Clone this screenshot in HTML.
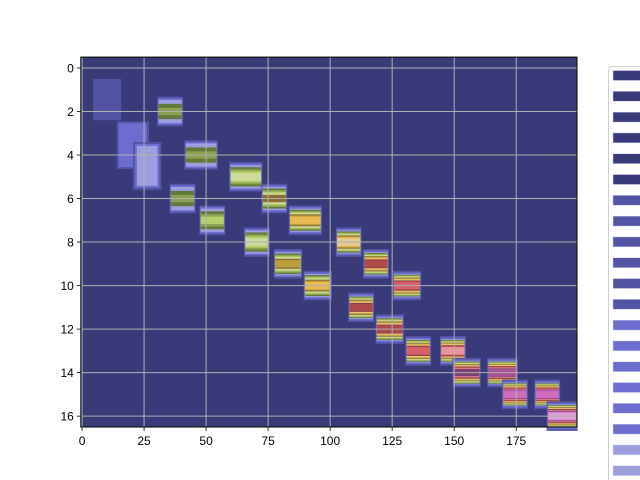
<!DOCTYPE html>
<html><head><meta charset="utf-8"><style>
body{margin:0;background:#fff;}
svg{display:block;font-family:"Liberation Sans","DejaVu Sans",sans-serif;}
</style></head><body>
<svg id="chart" width="640" height="480" viewBox="0 0 640 480" xmlns="http://www.w3.org/2000/svg">
<g id="plot"></g>
<g id="axes"></g>
<g id="legend"></g>
</svg>
<script>
const noteRows   = [2, 4, 5, 6, 6, 7, 8, 7, 9, 10, 8, 9, 11, 10, 12, 13, 13, 14, 14, 15, 15, 16];
const noteStarts = [30, 41, 59, 35, 72, 47, 65, 83, 77, 89, 102, 113, 107, 125, 118, 130, 144, 149, 163, 169, 182, 187];
const noteEnds   = [41, 55, 73, 46, 83, 58, 76, 97, 89, 101, 113, 124, 118, 137, 130, 141, 155, 161, 176, 180, 193, 200];
const notePeaks  = [5, 5, 7, 5, 8, 6, 7, 10, 9, 10, 11, 13, 13, 14, 13, 14, 15, 16, 17, 18, 18, 19];
const blobRows   = [1.45, 3.55, 4.5];
const blobStarts = [4.5, 14, 20.5];
const blobEnds   = [15.8, 27, 32];
const blobLevels = [1, 2, 3];
const xTicks = [0, 25, 50, 75, 100, 125, 150, 175];
const yTicks = [0, 2, 4, 6, 8, 10, 12, 14, 16];
const legendLevels = [0,0,0,0,0,0,1,1,1,1,1,1,2,2,2,2,2,2,3,3];

const cmap = ["#393b79","#5254a3","#6b6ecf","#9c9ede","#637939","#8ca252","#b5cf6b","#cedb9c","#8c6d31","#bd9e39","#e7ba52","#e7cb94","#843c39","#ad494a","#d6616b","#e7969c","#7b4173","#a55194","#ce6dbd","#de9ed6"];
const L = 80.8, R = 577, T = 57.1, B = 427;
const x = v => L + (v + 0.5) * (R - L) / 200;
const y = v => T + (v + 0.5) * (B - T) / 17;
const NS = "http://www.w3.org/2000/svg";
function mk(tag, attrs, parent){const e=document.createElementNS(NS,tag);for(const k in attrs)e.setAttribute(k,attrs[k]);parent.appendChild(e);return e;}
const plot = document.getElementById('plot');
const axes = document.getElementById('axes');
const legend = document.getElementById('legend');

const bg = mk('rect',{x:L,y:T,width:R-L,height:B-T,fill:cmap[0]},plot);



blobRows.forEach((r,i)=>{
  for(let k=1;k<=blobLevels[i];k++){
    const ins = (k-1)*2;
    const hh = i===0 ? 0.95 : 1.1;
    const e = mk('rect',{x:x(blobStarts[i])+ins,y:y(r-hh)+ins,width:x(blobEnds[i])-x(blobStarts[i])-2*ins,height:y(r+hh)-y(r-hh)-2*ins,fill:cmap[k]},plot);
    
    
  }
});

noteRows.forEach((r,i)=>{
  const x0=x(noteStarts[i]), x1=x(noteEnds[i]);
  const y0=y(r-0.68), y1=y(r+0.68);
  const h=y1-y0;
  const p=notePeaks[i];
  const innerStep = p>3 ? (h/2-6)/(p-3) : 1.5;
  for(let k=1;k<=p;k++){
    const ins = k<=3 ? (k-1)*1.6 : 3.2 + (k-3)*innerStep*0.9;
    const hx = Math.min(k,3)*0.7;
    const e = mk('rect',{x:x0+hx,y:y0+ins,width:Math.max(1,x1-x0-2*hx),height:Math.max(2,h-2*ins),fill:cmap[k]},plot);
    
    
  }
});

xTicks.forEach(t=>{
  const g = mk('line',{x1:x(t),x2:x(t),y1:T,y2:B,stroke:'#b0b0b0','stroke-width':1},axes);
  
  
  mk('line',{x1:x(t),x2:x(t),y1:B,y2:B+4,stroke:'#000','stroke-width':0.8},axes);
  const tx = mk('text',{x:x(t),y:B+18,'font-size':12,'text-anchor':'middle',fill:'#000'},axes);
  tx.textContent=t;
  
  
});
yTicks.forEach(t=>{
  const g = mk('line',{x1:L,x2:R,y1:y(t),y2:y(t),stroke:'#b0b0b0','stroke-width':1},axes);
  
  
  mk('line',{x1:L-4,x2:L,y1:y(t),y2:y(t),stroke:'#000','stroke-width':0.8},axes);
  const tx = mk('text',{x:L-7,y:y(t)+4.5,'font-size':12,'text-anchor':'end',fill:'#000'},axes);
  tx.textContent=t;
  
  
});
const frame = mk('rect',{x:L,y:T,width:R-L,height:B-T,fill:'none',stroke:'#000','stroke-width':1},axes);



const lb = mk('rect',{x:608.5,y:66.5,width:40,height:430,rx:3,fill:'#fff',stroke:'#d0d0d0'},legend);


legendLevels.forEach((lv,i)=>{
  const e = mk('rect',{x:613,y:70.5+i*20.8,width:30,height:10,fill:cmap[lv],stroke:'#e0e0f0','stroke-width':0.5},legend);
  
  
});
</script>
</body></html>
